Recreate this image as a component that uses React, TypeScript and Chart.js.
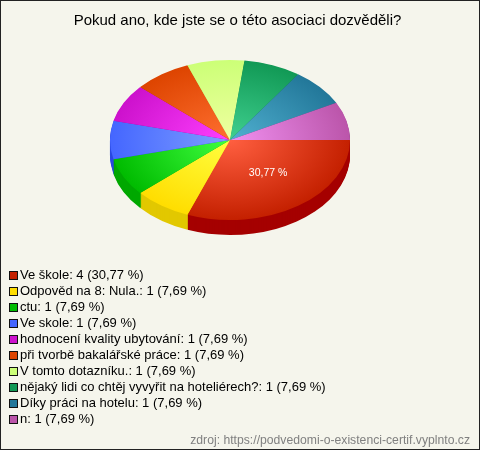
import React, { useEffect, useRef } from "react";
import { Chart, registerables } from "chart.js";

Chart.register(...registerables);

const chartTitle = "Pokud ano, kde jste se o této asociaci dozvěděli?";
const sourceNote = "zdroj: https://podvedomi-o-existenci-certif.vyplnto.cz";
const categories = [
  "Ve škole",
  "Odpověd na 8: Nula.",
  "ctu",
  "Ve skole",
  "hodnocení kvality ubytování",
  "při tvorbě bakalářské práce",
  "V tomto dotazníku.",
  "nějaký lidi co chtěj vyvyřit na hoteliérech?",
  "Díky práci na hotelu",
  "n",
];
const counts = [4, 1, 1, 1, 1, 1, 1, 1, 1, 1];
const percents = ["30,77", "7,69", "7,69", "7,69", "7,69", "7,69", "7,69", "7,69", "7,69", "7,69"];
const baseColors = ["#C42000", "#FFDD00", "#00BB00", "#4466FF", "#CC11CC", "#DD4400", "#CCFF77", "#119955", "#227799", "#BB55AA"];
const lightColors = ["#FF5F40", "#FFFF40", "#40FF40", "#7F9FFF", "#FF40FF", "#FF6F30", "#EFFFA0", "#40D090", "#50B0D0", "#F090F0"];
const sideColors = ["#A50000", "#E2C800", "#00A800", "#2A48E0", "#A000A0", "#B03000", "#A0D060", "#0A7040", "#105570", "#904088"];
const labelledSlices = [0];

const PIE_X = 230;
const PIE_Y = 140;
const PIE_R = 120;
const SQUASH = 2 / 3;
const DEPTH = 15;
const BG = "#F5F5EC";

function swatch(color: string) {
  const c = document.createElement("canvas");
  c.width = 13;
  c.height = 9;
  const g = c.getContext("2d")!;
  g.fillStyle = "#111";
  g.fillRect(4, 0, 9, 9);
  g.fillStyle = color;
  g.fillRect(5, 1, 7, 7);
  return c;
}

const piePlugin = {
  id: "pie3d",
  beforeDraw(chart: any) {
    const { ctx, width, height } = chart;
    ctx.save();
    ctx.fillStyle = BG;
    ctx.fillRect(0, 0, width, height);
    ctx.strokeStyle = "#222";
    ctx.lineWidth = 1;
    ctx.strokeRect(0.5, 0.5, width - 1, height - 1);
    ctx.restore();
  },
  afterLayout(chart: any) {
    const l = chart.legend;
    l.left = 9.5 - l.options.labels.padding;
    l.top = 269 - l.options.labels.padding;
    l.bottom = l.top + 190;
    l.right = 470;
  },
  beforeDatasetsDraw(chart: any) {
    const { ctx, chartArea } = chart;
    const cx = (chartArea.left + chartArea.right) / 2;
    const cy = (chartArea.top + chartArea.bottom) / 2;
    ctx.save();
    ctx.translate(PIE_X, PIE_Y);
    ctx.scale(1, SQUASH);
    ctx.translate(-cx, -cy);
    const arcs = chart.getDatasetMeta(0).data;
    for (let k = DEPTH; k >= 1; k--) {
      arcs.forEach((a: any, i: number) => {
        ctx.beginPath();
        ctx.moveTo(a.x, a.y + k / SQUASH);
        ctx.arc(a.x, a.y + k / SQUASH, a.outerRadius, a.startAngle, a.endAngle);
        ctx.closePath();
        ctx.fillStyle = sideColors[i];
        ctx.fill();
      });
    }
  },
  afterDatasetsDraw(chart: any) {
    const { ctx, chartArea } = chart;
    ctx.restore();
    const cx = (chartArea.left + chartArea.right) / 2;
    const cy = (chartArea.top + chartArea.bottom) / 2;
    const arcs = chart.getDatasetMeta(0).data;
    ctx.save();
    ctx.fillStyle = "#FFFFFF";
    ctx.font = '10.5px "Liberation Sans"';
    ctx.textAlign = "center";
    ctx.textBaseline = "middle";
    labelledSlices.forEach((i) => {
      const p = arcs[i].tooltipPosition();
      ctx.fillText(`${percents[i]} %`, PIE_X + 4 + (p.x - cx), PIE_Y + (p.y - cy) * SQUASH);
    });
    ctx.restore();
  },
};

export default function App() {
  const ref = useRef<HTMLCanvasElement>(null);
  useEffect(() => {
    document.body.style.margin = "0";
    const chart = new Chart(ref.current!, {
      type: "pie",
      plugins: [piePlugin],
      data: {
        labels: categories,
        datasets: [
          {
            data: counts,
            radius: PIE_R,
            clip: false,
            borderWidth: 0,
            hoverOffset: 0,
            backgroundColor: (c: any) => {
              const area = c.chart.chartArea;
              if (!area) return baseColors[c.dataIndex];
              const x = (area.left + area.right) / 2;
              const y = (area.top + area.bottom) / 2;
              const g = c.chart.ctx.createRadialGradient(x, y, 0, x, y, PIE_R);
              g.addColorStop(0, lightColors[c.dataIndex]);
              g.addColorStop(1, baseColors[c.dataIndex]);
              return g;
            },
          } as any,
        ],
      },
      options: {
        animation: false,
        responsive: false,
        rotation: 90,
        layout: { padding: { left: 5, right: 10 } },
        plugins: {
          tooltip: { enabled: false },
          title: {
            display: true,
            text: chartTitle,
            color: "#000",
            font: { family: '"Liberation Sans"', size: 15, weight: "normal" },
            padding: { top: 12, bottom: 4 },
          },
          subtitle: {
            display: true,
            position: "bottom",
            align: "end",
            text: sourceNote,
            color: "#808080",
            font: { family: '"Liberation Sans"', size: 12.2, weight: "normal" },
            padding: { top: 0, bottom: 2 },
          },
          legend: {
            position: "chartArea" as any,
            align: "start",
            labels: {
              color: "#000",
              font: { family: '"Liberation Sans"', size: 13 },
              padding: 3,
              boxWidth: 4,
              boxHeight: 9,
              usePointStyle: true,
              generateLabels: () =>
                categories.map((name, i) => ({
                  text: `${name}: ${counts[i]} (${percents[i]} %)`,
                  fillStyle: baseColors[i],
                  strokeStyle: "#111",
                  lineWidth: 0,
                  pointStyle: swatch(baseColors[i]) as any,
                  hidden: false,
                  index: i,
                  fontColor: "#000",
                })),
            },
          },
        },
      },
    });
    return () => chart.destroy();
  }, []);
  return <canvas ref={ref} width={480} height={450} style={{ display: "block" }} />;
}
